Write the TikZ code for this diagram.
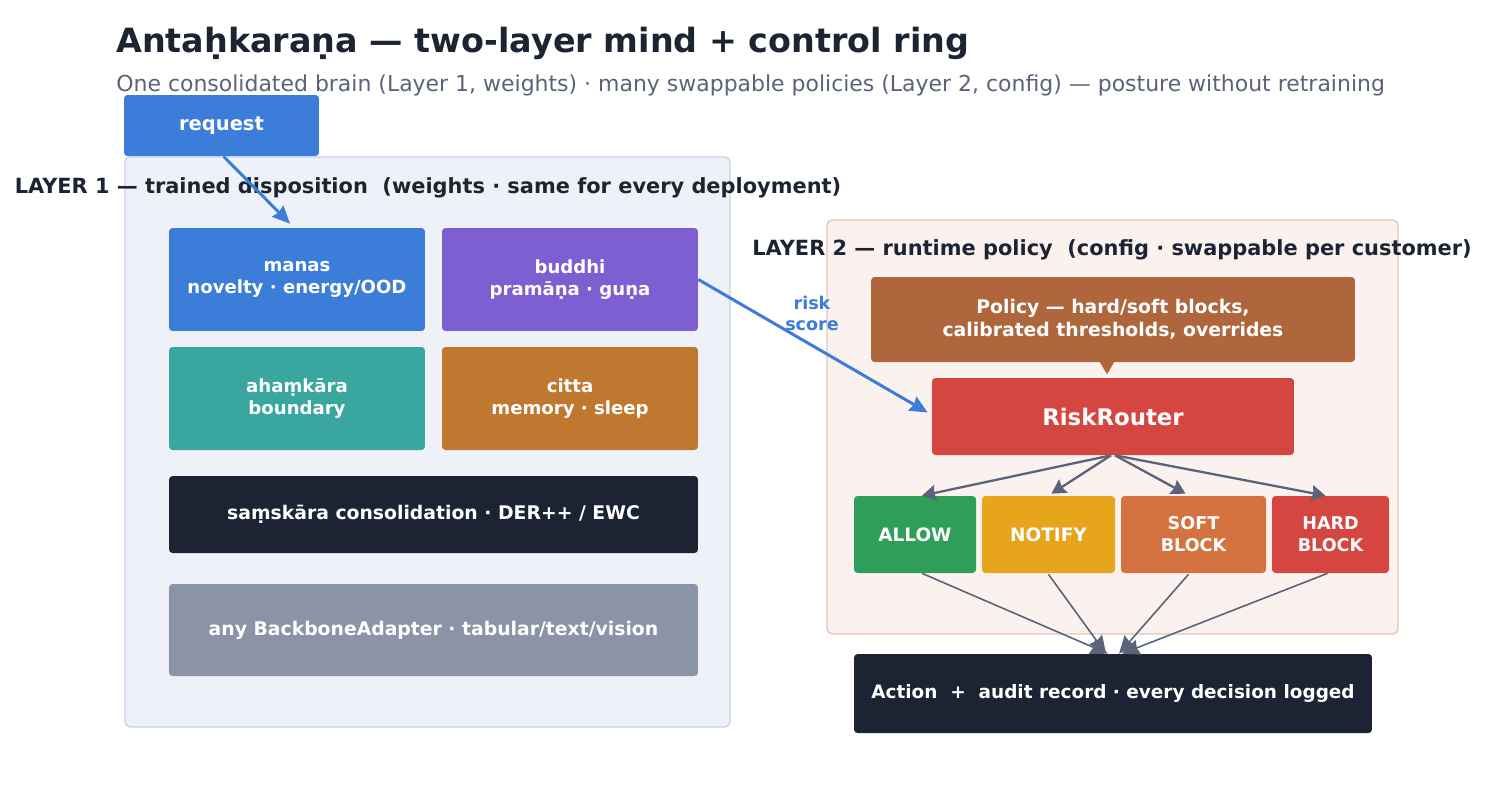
\documentclass[tikz,border=0pt]{standalone}
\usepackage{fontspec}
\setmainfont{DejaVu Sans}
\usepackage{xcolor}
\usetikzlibrary{arrows.meta,calc}

\definecolor{inkdark}{HTML}{1C2434}
\definecolor{inkgray}{HTML}{5A6378}
\definecolor{cblue}{HTML}{3B7DD8}
\definecolor{cpurple}{HTML}{7E5FD1}
\definecolor{cteal}{HTML}{3AA6A0}
\definecolor{corange}{HTML}{C0772F}
\definecolor{cslate}{HTML}{8B94A7}
\definecolor{cbrown}{HTML}{AF663C}
\definecolor{cred}{HTML}{D64640}
\definecolor{cgreen}{HTML}{2E9E5A}
\definecolor{cyellow}{HTML}{E6A51B}
\definecolor{csoft}{HTML}{D47340}
\definecolor{layoneback}{HTML}{EEF1F8}
\definecolor{layoneedge}{HTML}{C8D3E5}
\definecolor{laytwoback}{HTML}{FBF2EF}
\definecolor{laytwoedge}{HTML}{E6C5B8}

\tikzset{
    box/.style={rounded corners=2pt, inner sep=0pt, align=center, text=white,
        font=\bfseries\fontsize{10.3}{12.5}\selectfont},
    layertitle/.style={font=\bfseries\fontsize{11.9}{14}\selectfont, text=inkdark},
    flow/.style={line width=1.7pt, cblue, -{Stealth[length=10pt,width=9pt,inset=1pt]}},
    route/.style={line width=1.3pt, inkgray, -{Stealth[length=8pt,width=9pt,inset=1pt]}},
    merge/.style={line width=0.9pt, inkgray, -{Stealth[length=10pt,width=9pt,inset=1pt]}}
}

\begin{document}
\begin{tikzpicture}[x=0.02cm, y=-0.02cm]
        % 画面全体の大きさ
        \useasboundingbox (0,0) rectangle (1487,792);

        % タイトル
        \node[anchor=base west, inner sep=0pt, text=inkdark, font=\bfseries\fontsize{19}{23}\selectfont] (title) at (116,52) {Antaḥkaraṇa — two-layer mind + control ring};
        \node[anchor=base west, inner sep=0pt, text=inkgray, font=\fontsize{12.5}{15}\selectfont] (subtitle) at (116,91) {One consolidated brain (Layer 1, weights) · many swappable policies (Layer 2, config) — posture without retraining};

        % 枠（レイヤー1・レイヤー2）
        \draw[rounded corners=3pt, thick, draw=layoneedge, fill=layoneback] (125,157) rectangle (730,727);
        \draw[rounded corners=3pt, thick, draw=laytwoedge, fill=laytwoback] (827,220) rectangle (1398,634);

        \node[layertitle] (l1title) at (428,188) {LAYER 1 — trained disposition\ \ (weights · same for every deployment)};
        \node[layertitle] (l2title) at (1112,250) {LAYER 2 — runtime policy\ \ (config · swappable per customer)};

        % 入力
        \node[box, fill=cblue, minimum width=3.9cm, minimum height=1.22cm, font=\bfseries\fontsize{11.1}{13}\selectfont] (request) at (221.5,125.5) {request};

        % レイヤー1の中身
        \node[box, fill=cblue, minimum width=5.12cm, minimum height=2.06cm] (manas) at (297,279.5) {manas\\novelty · energy/OOD};
        \node[box, fill=cpurple, minimum width=5.12cm, minimum height=2.06cm] (buddhi) at (570,279.5) {buddhi\\pramāṇa · guṇa};
        \node[box, fill=cteal, minimum width=5.12cm, minimum height=2.06cm] (ahamkara) at (297,398.5) {ahaṃkāra\\boundary};
        \node[box, fill=corange, minimum width=5.12cm, minimum height=2.06cm] (citta) at (570,398.5) {citta\\memory · sleep};
        \node[box, fill=inkdark, minimum width=10.58cm, minimum height=1.54cm, font=\bfseries\fontsize{10.7}{13}\selectfont] (samskara) at (433.5,514.5) {saṃskāra consolidation · DER++ / EWC};
        \node[box, fill=cslate, minimum width=10.58cm, minimum height=1.84cm, font=\bfseries\fontsize{10.7}{13}\selectfont] (backbone) at (433.5,630) {any BackboneAdapter · tabular/text/vision};

        % レイヤー2の中身
        \node[box, fill=cbrown, minimum width=9.68cm, minimum height=1.7cm, font=\bfseries\fontsize{10.7}{13}\selectfont] (policy) at (1113,319.5) {Policy — hard/soft blocks,\\calibrated thresholds, overrides};
        \node[box, fill=cred, minimum width=7.24cm, minimum height=1.54cm, font=\bfseries\fontsize{13}{16}\selectfont] (router) at (1113,416.5) {RiskRouter};

        \node[box, fill=cgreen, minimum width=2.44cm, minimum height=1.54cm, font=\bfseries\fontsize{10.5}{12.5}\selectfont] (allow) at (915,534.5) {ALLOW};
        \node[box, fill=cyellow, minimum width=2.66cm, minimum height=1.54cm, font=\bfseries\fontsize{10.5}{12.5}\selectfont] (notify) at (1048.5,534.5) {NOTIFY};
        \node[box, fill=csoft, minimum width=2.9cm, minimum height=1.54cm, font=\bfseries\fontsize{10}{12.5}\selectfont] (soft) at (1193.5,534.5) {SOFT\\BLOCK};
        \node[box, fill=cred, minimum width=2.34cm, minimum height=1.54cm, font=\bfseries\fontsize{10}{12.5}\selectfont] (hard) at (1330.5,534.5) {HARD\\BLOCK};

        % 出力
        \node[box, fill=inkdark, minimum width=10.36cm, minimum height=1.58cm, font=\bfseries\fontsize{10.5}{12.5}\selectfont] (action) at (1113,693.5) {Action\ \ +\ \ audit record · every decision logged};

        % 矢印
        \draw[flow] ($(request.south)+(2,0)$) -- ($(manas.north)+(-7,-4)$);
        \draw[flow] (buddhi.east) -- ($(router.west)+(-4,-4)$);
        \node[text=cblue, align=center, font=\bfseries\fontsize{10}{12}\selectfont] (risklabel) at (812,313) {risk\\score};

        \draw[thick, cbrown, -{Triangle[length=7pt,width=8pt]}] ($(policy.south)+(-6,0)$) -- ($(policy.south)+(-6,12)$);

        \draw[route] ($(router.south)+(-2,0)$) -- ($(allow.north)+(7,0)$);
        \draw[route] ($(router.south)+(-2,0)$) -- ($(notify.north)+(3,-2)$);
        \draw[route] ($(router.south)+(2,0)$) -- ($(soft.north)+(-8,-2)$);
        \draw[route] ($(router.south)+(2,0)$) -- ($(hard.north)+(-5,0)$);

        \draw[merge] ($(allow.south)+(7,0)$) -- ($(action.north)+(-5,0)$);
        \draw[merge] ($(notify.south)+(0,1)$) -- ($(action.north)+(-7,0)$);
        \draw[merge] ($(soft.south)+(-5,1)$) -- ($(action.north)+(6,0)$);
        \draw[merge] ($(hard.south)+(-3,0)$) -- ($(action.north)+(9,0)$);
\end{tikzpicture}
\end{document}
